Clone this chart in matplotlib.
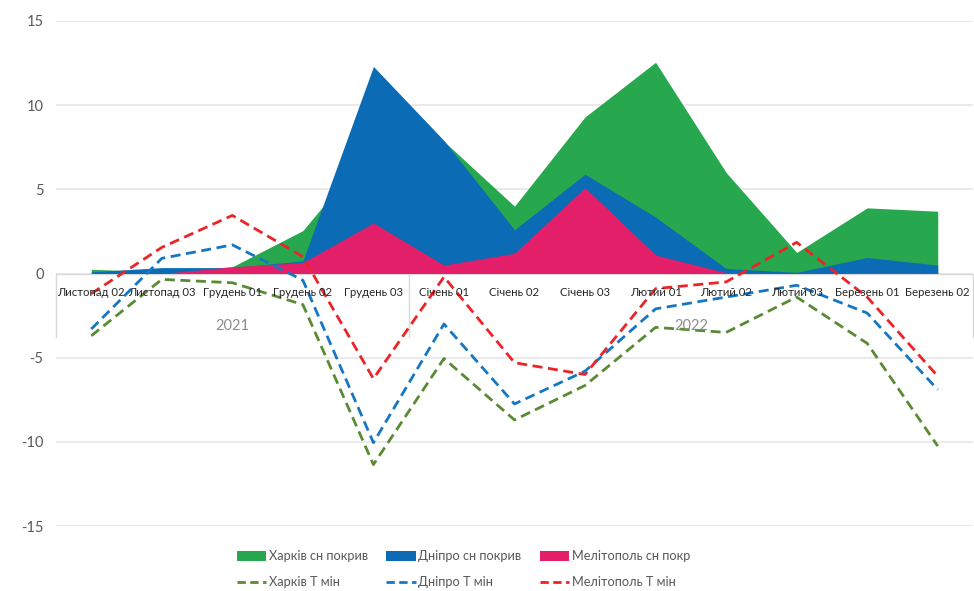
import matplotlib
matplotlib.use("Agg")
import matplotlib.pyplot as plt
from matplotlib.patches import Patch
from matplotlib.lines import Line2D
import numpy as np

plt.rcParams['font.family'] = ['Lato', 'DejaVu Sans']

categories = ["Листопад 02", "Листопад 03", "Грудень 01", "Грудень 02", "Грудень 03",
              "Січень 01", "Січень 02", "Січень 03", "Лютий 01", "Лютий 02",
              "Лютий 03", "Березень 01", "Березень 02"]
years = ["2021", "2022"]
year_sizes = [5, 8]

kharkiv_snow = [0.25, 0.1, 0.4, 2.55, 7.6, 7.85, 4.0, 9.3, 12.55, 6.0, 1.25, 3.9, 3.7]
dnipro_snow = [0.1, 0.35, 0.35, 0.75, 12.3, 7.9, 2.6, 5.9, 3.35, 0.3, 0.07, 0.95, 0.5]
melit_snow = [0.0, 0.0, 0.4, 0.65, 3.0, 0.5, 1.2, 5.1, 1.1, 0.05, 0.0, 0.05, 0.03]

kharkiv_t = [-3.7, -0.35, -0.55, -1.85, -11.35, -5.05, -8.7, -6.65, -3.2, -3.5, -1.4, -4.15, -10.25]
dnipro_t = [-3.3, 0.9, 1.7, -0.4, -10.05, -3.0, -7.75, -5.8, -2.1, -1.4, -0.7, -2.35, -6.9]
melit_t = [-1.2, 1.55, 3.45, 1.0, -6.25, -0.2, -5.3, -6.0, -0.9, -0.5, 1.85, -1.4, -6.1]

area_labels = ["Харків сн покрив", "Дніпро сн покрив", "Мелітополь сн покр"]
line_labels = ["Харків Т мін", "Дніпро Т мін", "Мелітополь Т мін"]
area_colors = ["#27A84F", "#0B6CB5", "#E41F6A"]
line_colors = ["#5A8A34", "#1577C4", "#EC2327"]

fig = plt.figure(figsize=(9.74, 5.91), dpi=100)
ax = fig.add_axes([56/974, (591-526)/591, (973-56)/974, (526-21)/591])

x = np.arange(len(categories))
for vals, c in zip([kharkiv_snow, dnipro_snow, melit_snow], area_colors):
    ax.fill_between(x, 0, vals, color=c, linewidth=0, zorder=2)

for vals, c in zip([kharkiv_t, dnipro_t, melit_t], line_colors):
    ax.plot(x, vals, color=c, linewidth=2.0, dashes=(3.6, 2.0), zorder=3,
            solid_capstyle='butt', dash_capstyle='butt')

ax.set_xlim(-0.5, len(categories) - 0.5)
ax.set_ylim(-15, 15)
ax.set_yticks([-15, -10, -5, 0, 5, 10, 15])
ax.set_yticklabels(["-15", "-10", "-5", "0", "5", "10", "15"])
ax.tick_params(axis='y', length=0, pad=9, labelsize=10.5, labelcolor="#595959")
ax.set_xticks([])
for s in ax.spines.values():
    s.set_visible(False)
ax.grid(axis='y', color="#E6E6E6", linewidth=1.2, zorder=0)
ax.set_axisbelow(True)

# category axis at zero
ax.axhline(0, color="#D9D9D9", linewidth=1.0, zorder=1)
for i, lab in enumerate(categories):
    ax.annotate(lab, xy=(i, 0), xytext=(0, -10), textcoords='offset points',
                ha='center', va='top', fontsize=8.2, color="#262626", zorder=4)

# group separators and year labels
sep_bottom = -3.8
start = 0
bounds = [-0.5]
for yr, n in zip(years, year_sizes):
    center = start + (n - 1) / 2
    ax.annotate(yr, xy=(center, 0), xytext=(0, -33), textcoords='offset points',
                ha='center', va='top', fontsize=10.5, color="#8C8C8C", zorder=4)
    start += n
    bounds.append(start - 0.5)
for b in bounds:
    ax.plot([b, b], [0, sep_bottom], color="#D9D9D9", linewidth=1.0, zorder=1,
            clip_on=False)

handles = []
for i in range(3):
    handles.append(Patch(facecolor=area_colors[i], edgecolor='none', label=area_labels[i]))
    handles.append(Line2D([0], [0], color=line_colors[i], linewidth=2.0, dashes=(3.0, 1.6),
                          label=line_labels[i]))
leg = fig.legend(handles=handles, ncol=3, loc='upper center', bbox_to_anchor=(0.476, 0.088),
                 frameon=False, fontsize=9.2, handlelength=2.3, handleheight=0.75,
                 handletextpad=0.2, columnspacing=1.45, labelspacing=1.08)
for t in leg.get_texts():
    t.set_color("#595959")

fig.savefig("out.png", dpi=100)
